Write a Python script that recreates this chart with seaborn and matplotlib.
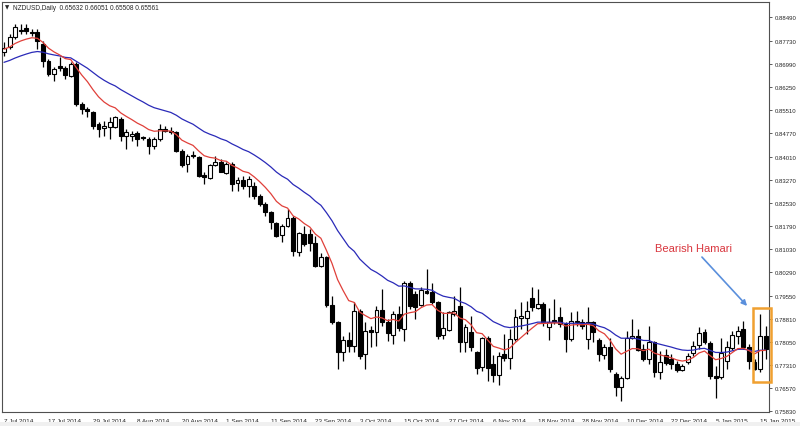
import numpy as np
import pandas as pd
import matplotlib
matplotlib.use("Agg")
import matplotlib.pyplot as plt
import seaborn as sns
from matplotlib.patches import Rectangle

# -------------------------------
# Daily NZDUSD bars, 7 Jul 2014 .. 16 Jan 2015
# -------------------------------
opens = [
    0.8738, 0.8752, 0.8784, 0.8804, 0.8813, 0.8798, 0.8800, 0.8762, 0.8709, 0.8666,
    0.8693, 0.8684, 0.8661, 0.8698, 0.8570, 0.8554, 0.8543, 0.8506, 0.8492, 0.8495,
    0.8495, 0.8522, 0.8466, 0.8468, 0.8477, 0.8463, 0.8457, 0.8436, 0.8457, 0.8490,
    0.8484, 0.8479, 0.8420, 0.8377, 0.8406, 0.8399, 0.8342, 0.8331, 0.8374, 0.8383,
    0.8347, 0.8377, 0.8316, 0.8327, 0.8305, 0.8308, 0.8276, 0.8249, 0.8222, 0.8188,
    0.8149, 0.8177, 0.8204, 0.8096, 0.8152, 0.8152, 0.8124, 0.8051, 0.8078, 0.7925,
    0.7869, 0.7773, 0.7812, 0.7794, 0.7906, 0.7767, 0.7845, 0.7839, 0.7910, 0.7869,
    0.7828, 0.7896, 0.7848, 0.7994, 0.7960, 0.7926, 0.7971, 0.7965, 0.7935, 0.7828,
    0.7845, 0.7896, 0.7920, 0.7807, 0.7839, 0.7775, 0.7724, 0.7818, 0.7735, 0.7700,
    0.7767, 0.7753, 0.7815, 0.7882, 0.7882, 0.7946, 0.7914, 0.7928, 0.7853, 0.7877,
    0.7885, 0.7864, 0.7815, 0.7874, 0.7871, 0.7815, 0.7869, 0.7812, 0.7764, 0.7789,
    0.7703, 0.7660, 0.7689, 0.7818, 0.7824, 0.7783, 0.7751, 0.7805, 0.7711, 0.7764,
    0.7751, 0.7735, 0.7717, 0.7741, 0.7770, 0.7796, 0.7837, 0.7803, 0.7696, 0.7692,
    0.7746, 0.7785, 0.7824, 0.7848, 0.7791, 0.7743, 0.7719, 0.7826,
]
highs = [
    0.8768, 0.8794, 0.8827, 0.8827, 0.8827, 0.8810, 0.8810, 0.8773, 0.8714, 0.8687,
    0.8720, 0.8693, 0.8704, 0.8704, 0.8575, 0.8559, 0.8548, 0.8511, 0.8516, 0.8527,
    0.8532, 0.8527, 0.8490, 0.8484, 0.8484, 0.8468, 0.8465, 0.8463, 0.8506, 0.8500,
    0.8495, 0.8484, 0.8425, 0.8409, 0.8420, 0.8404, 0.8350, 0.8377, 0.8404, 0.8393,
    0.8385, 0.8383, 0.8334, 0.8340, 0.8340, 0.8318, 0.8281, 0.8254, 0.8227, 0.8192,
    0.8185, 0.8233, 0.8209, 0.8160, 0.8177, 0.8168, 0.8147, 0.8091, 0.8083, 0.7955,
    0.7874, 0.7826, 0.7837, 0.7933, 0.7912, 0.7869, 0.7858, 0.7922, 0.7976, 0.7880,
    0.7906, 0.7922, 0.8003, 0.8003, 0.7971, 0.7981, 0.8040, 0.7995, 0.7938, 0.7901,
    0.7906, 0.7955, 0.7981, 0.7864, 0.7890, 0.7778, 0.7821, 0.7826, 0.7764, 0.7773,
    0.7831, 0.7848, 0.7912, 0.7933, 0.7938, 0.7981, 0.7976, 0.7933, 0.7914, 0.7944,
    0.7917, 0.7869, 0.7901, 0.7906, 0.7880, 0.7917, 0.7874, 0.7818, 0.7799, 0.7818,
    0.7708, 0.7698, 0.7842, 0.7880, 0.7848, 0.7799, 0.7858, 0.7810, 0.7778, 0.7783,
    0.7767, 0.7746, 0.7735, 0.7770, 0.7810, 0.7853, 0.7848, 0.7810, 0.7730, 0.7818,
    0.7810, 0.7842, 0.7858, 0.7874, 0.7799, 0.7751, 0.7896, 0.7858,
]
lows = [
    0.8725, 0.8746, 0.8778, 0.8794, 0.8794, 0.8789, 0.8746, 0.8687, 0.8661, 0.8645,
    0.8677, 0.8650, 0.8655, 0.8564, 0.8538, 0.8527, 0.8490, 0.8463, 0.8468, 0.8457,
    0.8492, 0.8452, 0.8425, 0.8452, 0.8436, 0.8455, 0.8409, 0.8425, 0.8452, 0.8479,
    0.8473, 0.8415, 0.8366, 0.8350, 0.8395, 0.8334, 0.8313, 0.8329, 0.8370, 0.8350,
    0.8345, 0.8292, 0.8292, 0.8297, 0.8270, 0.8265, 0.8243, 0.8211, 0.8168, 0.8142,
    0.8126, 0.8174, 0.8083, 0.8083, 0.8115, 0.8099, 0.8045, 0.8045, 0.7917, 0.7864,
    0.7719, 0.7746, 0.7773, 0.7773, 0.7751, 0.7719, 0.7789, 0.7794, 0.7858, 0.7810,
    0.7799, 0.7842, 0.7810, 0.7912, 0.7880, 0.7922, 0.7960, 0.7928, 0.7815, 0.7815,
    0.7842, 0.7890, 0.7775, 0.7773, 0.7778, 0.7703, 0.7714, 0.7682, 0.7676, 0.7668,
    0.7746, 0.7719, 0.7810, 0.7848, 0.7831, 0.7906, 0.7912, 0.7858, 0.7813, 0.7864,
    0.7853, 0.7773, 0.7810, 0.7858, 0.7848, 0.7783, 0.7805, 0.7746, 0.7751, 0.7708,
    0.7634, 0.7618, 0.7687, 0.7815, 0.7778, 0.7746, 0.7735, 0.7692, 0.7687, 0.7732,
    0.7719, 0.7708, 0.7714, 0.7735, 0.7762, 0.7783, 0.7799, 0.7687, 0.7625, 0.7687,
    0.7719, 0.7781, 0.7799, 0.7783, 0.7719, 0.7717, 0.7708, 0.7751,
]
closes = [
    0.8748, 0.8784, 0.8816, 0.8808, 0.8805, 0.8802, 0.8773, 0.8709, 0.8666, 0.8682,
    0.8684, 0.8663, 0.8698, 0.8570, 0.8554, 0.8548, 0.8500, 0.8490, 0.8500, 0.8511,
    0.8527, 0.8468, 0.8479, 0.8473, 0.8457, 0.8460, 0.8436, 0.8457, 0.8490, 0.8484,
    0.8479, 0.8420, 0.8374, 0.8404, 0.8402, 0.8340, 0.8334, 0.8374, 0.8385, 0.8353,
    0.8377, 0.8313, 0.8327, 0.8305, 0.8329, 0.8276, 0.8249, 0.8222, 0.8190, 0.8147,
    0.8177, 0.8204, 0.8099, 0.8156, 0.8120, 0.8124, 0.8051, 0.8078, 0.7925, 0.7869,
    0.7773, 0.7812, 0.7794, 0.7906, 0.7760, 0.7842, 0.7837, 0.7910, 0.7869, 0.7835,
    0.7896, 0.7850, 0.7994, 0.7922, 0.7917, 0.7973, 0.7963, 0.7933, 0.7826, 0.7851,
    0.7901, 0.7906, 0.7807, 0.7853, 0.7789, 0.7721, 0.7818, 0.7721, 0.7700, 0.7762,
    0.7753, 0.7815, 0.7885, 0.7890, 0.7906, 0.7917, 0.7928, 0.7869, 0.7871, 0.7869,
    0.7864, 0.7815, 0.7874, 0.7869, 0.7858, 0.7869, 0.7839, 0.7767, 0.7789, 0.7719,
    0.7660, 0.7689, 0.7818, 0.7824, 0.7781, 0.7751, 0.7805, 0.7711, 0.7741, 0.7738,
    0.7735, 0.7717, 0.7728, 0.7762, 0.7794, 0.7835, 0.7805, 0.7696, 0.7690, 0.7770,
    0.7789, 0.7828, 0.7842, 0.7789, 0.7746, 0.7719, 0.7826, 0.7783,
]

# moving averages: periods and the level they start from on the left edge
fast_period, fast_start = 10, 0.8745
slow_period, slow_start = 26, 0.8700

date_labels = ["7 Jul 2014", "17 Jul 2014", "29 Jul 2014", "8 Aug 2014", "20 Aug 2014",
               "1 Sep 2014", "11 Sep 2014", "23 Sep 2014", "3 Oct 2014", "15 Oct 2014",
               "27 Oct 2014", "6 Nov 2014", "18 Nov 2014", "28 Nov 2014", "10 Dec 2014",
               "22 Dec 2014", "5 Jan 2015", "15 Jan 2015"]
price_ticks = [0.88490, 0.87730, 0.86990, 0.86250, 0.85510, 0.84770, 0.84010, 0.83270,
               0.82530, 0.81790, 0.81030, 0.80290, 0.79550, 0.78810, 0.78050, 0.77310,
               0.76570, 0.75830]

# -------------------------------
# Build table
# -------------------------------
df = pd.DataFrame({"open": opens, "high": highs, "low": lows, "close": closes})
df["bar"] = np.arange(len(df))
df["bull"] = df["close"] >= df["open"]
df["ma_fast"] = pd.Series([fast_start] + closes).ewm(span=fast_period, adjust=False).mean()[1:].values
df["ma_slow"] = pd.Series([slow_start] + closes).ewm(span=slow_period, adjust=False).mean()[1:].values

# -------------------------------
# Plot
# -------------------------------
sns.set_style("white")
plt.rcParams["font.family"] = ["Liberation Sans", "DejaVu Sans"]

fig = plt.figure(figsize=(8, 4.27), dpi=100)
ax = fig.add_axes([2 / 800, 14 / 427, 767 / 800, 410 / 427])

# wicks and bodies
ax.vlines(df["bar"], df["low"], df["high"], color="black", lw=0.9, zorder=2)
body_low = df[["open", "close"]].min(axis=1)
body_h = (df["close"] - df["open"]).abs().clip(lower=0.00005)
ax.bar(df["bar"], body_h, bottom=body_low, width=0.7,
       color=np.where(df["bull"], "white", "black"), edgecolor="black", lw=0.8, zorder=3)

sns.lineplot(data=df, x="bar", y="ma_slow", color="#2a2ab8", lw=0.9, ax=ax, zorder=4)
sns.lineplot(data=df, x="bar", y="ma_fast", color="#e0403a", lw=0.9, ax=ax, zorder=4)

ax.set_xlim(-0.36, 137.6)
ax.set_ylim(0.75811, 0.88972)

# axes / ticks
ax.set_xticks(df["bar"][::8])
ax.set_xticklabels(date_labels, ha="left", fontsize=4.6)
ax.yaxis.tick_right()
ax.set_yticks(price_ticks)
ax.set_yticklabels([f"{p:.5f}" for p in price_ticks], fontsize=4.3)
ax.tick_params(axis="x", direction="out", length=3, width=0.6, pad=1.5, color="#404040")
ax.tick_params(axis="y", direction="out", length=2.5, width=0.6, pad=1.5, color="#404040")
ax.set_xlabel("")
ax.set_ylabel("")
for side in ["left", "top", "right", "bottom"]:
    ax.spines[side].set_visible(True)
    ax.spines[side].set_color("#505050")
    ax.spines[side].set_linewidth(0.8)

# header
fig.text(5 / 800, 1 - 8 / 427, "\u25bc", fontsize=4, va="center", family=["DejaVu Sans"])
fig.text(13 / 800, 1 - 8 / 427, "NZDUSD,Daily  0.65632 0.66051 0.65508 0.65561",
         fontsize=4.7, va="center")

# annotation
ax.annotate("", xy=(134.0, 0.7915), xytext=(125.2, 0.8085),
            arrowprops=dict(arrowstyle="-|>", color="#5a8fdc", lw=1.2, mutation_scale=8))
ax.text(117.1, 0.8107, "Bearish Hamari", color="#d9363e", fontsize=8, va="center", ha="left")
ax.add_patch(Rectangle((134.7, 0.7677), 3.25, 0.0238, fill=False, edgecolor="#f0a030",
                       lw=1.8, clip_on=False, zorder=5))

# grey strip at the very bottom
fig.patches.append(Rectangle((0, 0), 1, 4 / 427, transform=fig.transFigure,
                             facecolor="#f0f0f0", edgecolor="none"))

fig.savefig("out.png", dpi=100)
